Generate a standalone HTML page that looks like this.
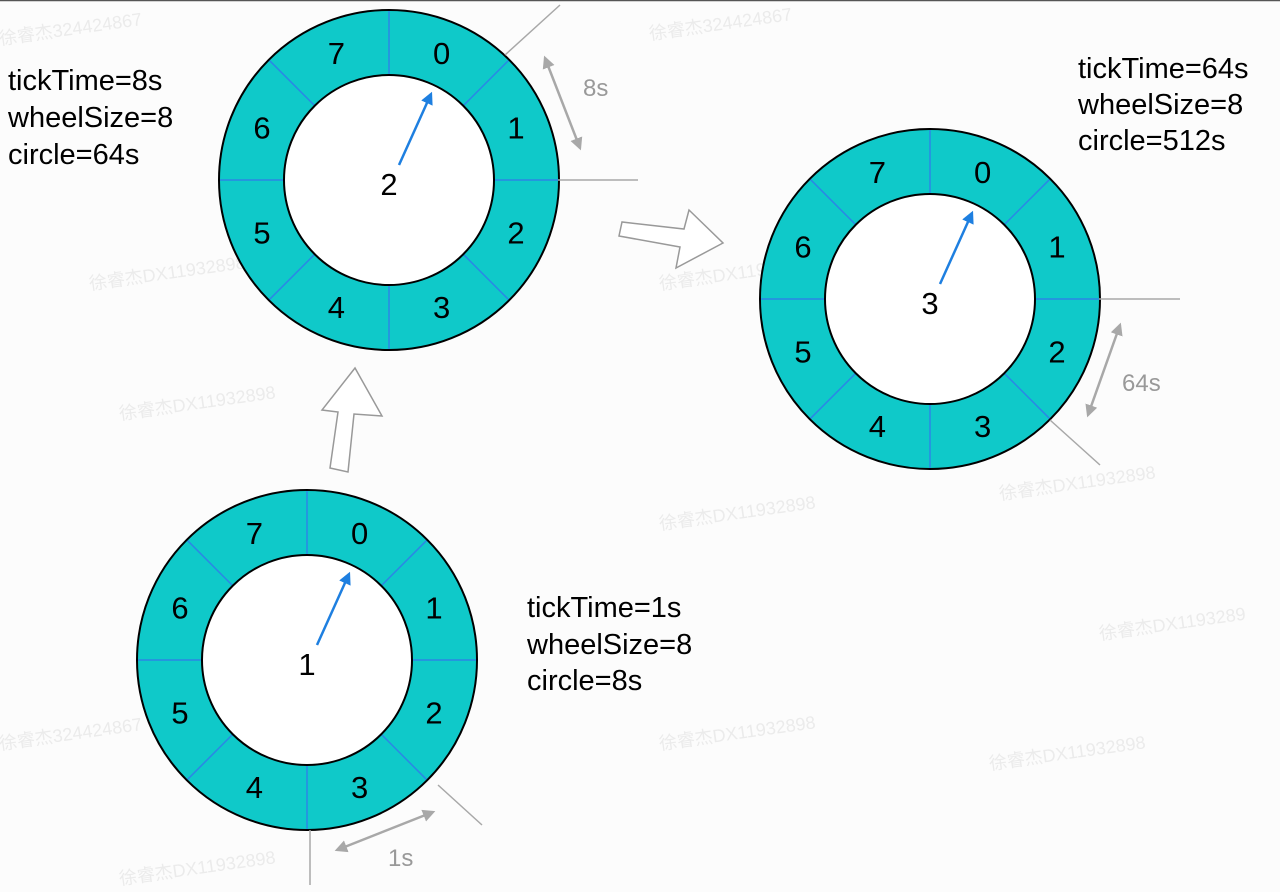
<!DOCTYPE html>
<html><head><meta charset="utf-8"><style>
html,body{margin:0;padding:0;background:#fcfcfc;}
svg{display:block;font-family:"Liberation Sans","Noto Sans CJK SC",sans-serif;}
</style></head><body>
<svg id="s" width="1280" height="892" viewBox="0 0 1280 892">
<rect x="0" y="0" width="1280" height="892" fill="#fcfcfc"/>
<line x1="0" y1="0.5" x2="1280" y2="0.5" stroke="#555" stroke-width="1.5"/>
<g fill="#ebebeb" font-size="18">
<text x="0" y="45" transform="rotate(-8 0 45)">徐睿杰324424867</text>
<text x="650" y="40" transform="rotate(-8 650 40)">徐睿杰324424867</text>
<text x="90" y="290" transform="rotate(-8 90 290)">徐睿杰DX11932898</text>
<text x="660" y="290" transform="rotate(-8 660 290)">徐睿杰DX11932898</text>
<text x="120" y="420" transform="rotate(-8 120 420)">徐睿杰DX11932898</text>
<text x="1000" y="500" transform="rotate(-8 1000 500)">徐睿杰DX11932898</text>
<text x="660" y="530" transform="rotate(-8 660 530)">徐睿杰DX11932898</text>
<text x="0" y="750" transform="rotate(-8 0 750)">徐睿杰324424867</text>
<text x="660" y="750" transform="rotate(-8 660 750)">徐睿杰DX11932898</text>
<text x="990" y="770" transform="rotate(-8 990 770)">徐睿杰DX11932898</text>
<text x="120" y="885" transform="rotate(-8 120 885)">徐睿杰DX11932898</text>
<text x="1100" y="640" transform="rotate(-8 1100 640)">徐睿杰DX1193289</text>
</g>
<g id="wheels"></g>
<g stroke="#a8a8a8" stroke-width="1.5" fill="none">
<line x1="505" y1="55" x2="560" y2="5"/>
<line x1="558" y1="180" x2="638" y2="180"/>
<line x1="1099" y1="299" x2="1180" y2="299"/>
<line x1="1050" y1="420" x2="1100" y2="465"/>
<line x1="310" y1="830" x2="310" y2="885"/>
<line x1="438" y1="785" x2="482" y2="825"/>
</g>
<defs><marker id="ah" viewBox="0 0 10 10" refX="8" refY="5" markerWidth="5" markerHeight="5" orient="auto-start-reverse"><path d="M0,0 L10,5 L0,10 z" fill="#a8a8a8"/></marker>
<marker id="bh" viewBox="0 0 10 10" refX="8" refY="5" markerWidth="5" markerHeight="5" orient="auto"><path d="M0,0 L10,5 L0,10 z" fill="#1e7fe0"/></marker></defs>
<g stroke="#a8a8a8" stroke-width="2.5">
<line x1="545" y1="58" x2="580" y2="148" marker-start="url(#ah)" marker-end="url(#ah)"/>
<line x1="1120" y1="325" x2="1088" y2="415" marker-start="url(#ah)" marker-end="url(#ah)"/>
<line x1="337" y1="850" x2="433" y2="812" marker-start="url(#ah)" marker-end="url(#ah)"/>
</g>
<g fill="#999" font-size="24">
<text x="583" y="96">8s</text>
<text x="1122" y="391">64s</text>
<text x="388" y="866">1s</text>
</g>
<g fill="#fff" stroke="#999" stroke-width="1.5">
<path d="M330,468 L348,472 L354,414 L382,416 L355,368 L322,410 L338,412 Z"/>
<path d="M622,222 L619,236 L680,247 L676,268 L723,243 L689,210 L684,229 Z"/>
</g>
<g font-size="29" fill="#000">
<text x="8" y="90">tickTime=8s</text>
<text x="8" y="127">wheelSize=8</text>
<text x="8" y="164">circle=64s</text>
<text x="1078" y="78">tickTime=64s</text>
<text x="1078" y="114">wheelSize=8</text>
<text x="1078" y="150">circle=512s</text>
<text x="527" y="617">tickTime=1s</text>
<text x="527" y="654">wheelSize=8</text>
<text x="527" y="690">circle=8s</text>
</g>
</svg>
<script>
var wheelCx=[389,930,307];
var wheelCy=[180,299,660];
var wheelNames=['wheel-8s','wheel-64s','wheel-1s'];
var pointerLabels=['2','3','1'];
var slotLabels=['0','1','2','3','4','5','6','7'];
var R_OUT=170,R_IN=105;
var NS='http://www.w3.org/2000/svg';
var g=document.getElementById('wheels');
function mk(t,a){var e=document.createElementNS(NS,t);for(var k in a)e.setAttribute(k,a[k]);return e;}
for(var w=0;w<wheelCx.length;w++){
  var cx=wheelCx[w],cy=wheelCy[w];
  var wg=mk('g',{});
  
  
  var ring=mk('circle',{cx:cx,cy:cy,r:(R_OUT+R_IN)/2,fill:'none',stroke:'#0fc9c9','stroke-width':R_OUT-R_IN});
  
  
  wg.appendChild(ring);
  for(var i=0;i<slotLabels.length;i++){
    var a=(i*45-90)*Math.PI/180;
    var d=mk('line',{x1:cx+R_IN*Math.cos(a),y1:cy+R_IN*Math.sin(a),x2:cx+R_OUT*Math.cos(a),y2:cy+R_OUT*Math.sin(a),stroke:'#2b86e6','stroke-width':1.5});
    
    
    wg.appendChild(d);
    var b=(i*45+22.5-90)*Math.PI/180,rm=(R_OUT+R_IN)/2;
    var t=mk('text',{x:cx+rm*Math.cos(b),y:cy+rm*Math.sin(b)+11,'text-anchor':'middle','font-size':31,fill:'#000'});
    t.textContent=slotLabels[i];
    
    
    wg.appendChild(t);
  }
  wg.appendChild(mk('circle',{cx:cx,cy:cy,r:R_OUT,fill:'none',stroke:'#000','stroke-width':2}));
  wg.appendChild(mk('circle',{cx:cx,cy:cy,r:R_IN,fill:'#fff',stroke:'#000','stroke-width':2}));
  var p=mk('line',{x1:cx+10,y1:cy-15,x2:cx+42,y2:cy-86,stroke:'#1e7fe0','stroke-width':2.5,'marker-end':'url(#bh)'});
  
  
  wg.appendChild(p);
  var pl=mk('text',{x:cx,y:cy+15,'text-anchor':'middle','font-size':31,fill:'#000'});
  pl.textContent=pointerLabels[w];
  
  
  wg.appendChild(pl);
  g.appendChild(wg);
}
</script>
</body></html>
